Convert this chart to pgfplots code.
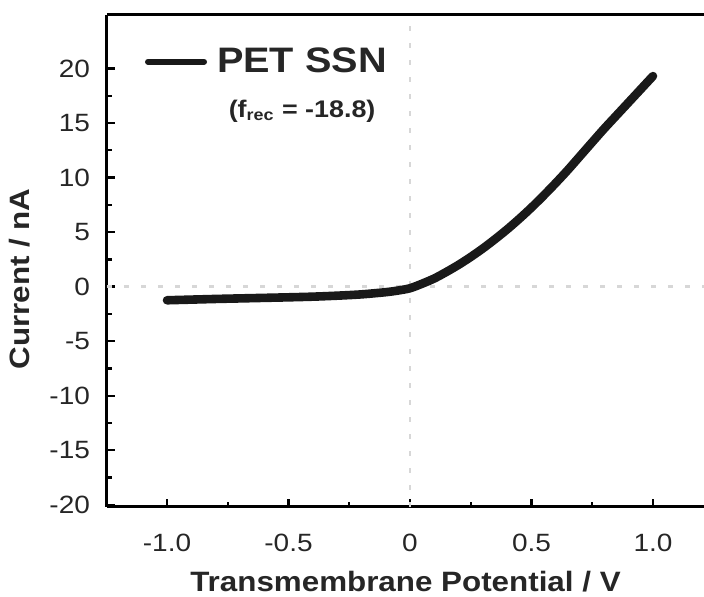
\documentclass[border=0pt]{standalone}
\usepackage{pgfplots}
\pgfplotsset{compat=1.18}
\usepackage{fontspec}
\setmainfont{Liberation Sans}[FakeStretch=1.12]
\definecolor{gridgray}{RGB}{215,215,215}
\begin{document}
\begin{tikzpicture}
\begin{axis}[
  at={(0,0)}, anchor=south west,
  scale only axis, width=298.5pt, height=246pt,
  xmin=-1.247, xmax=1.21, ymin=-20.2, ymax=24.9,
  axis x line*=box, axis y line*=left,
  axis line style={line width=1.5pt, black},
  xtick={-1,-0.5,0,0.5,1},
  xticklabels={-1.0,-0.5,0,0.5,1.0},
  ytick={-20,-15,-10,-5,0,5,10,15,20},
  yticklabels={-20,-15,-10,-5,0,5,10,15,20},
  minor x tick num=1, minor y tick num=1,
  xtick pos=bottom, ytick pos=left,
  tick align=inside,
  major tick length=4pt, minor tick length=2.5pt,
  every tick/.style={line width=1.2pt, black},
  tick label style={font=\fontsize{12.5}{14}\selectfont, text=black!85},
  xticklabel style={yshift=-10pt},
  yticklabel style={xshift=-5pt},
  xlabel={\bfseries Transmembrane Potential / V},
  ylabel={\bfseries Current / nA},
  label style={font=\fontsize{14}{16}\selectfont, text=black!85},
  xlabel style={yshift=-3pt},
  ylabel style={xshift=-9pt, yshift=3pt},
  legend style={at={(rel axis cs:0.063,0.905)}, anchor=west, draw=none, fill=none,
    font=\fontsize{17.7}{19}\selectfont\bfseries, text=black!85, inner sep=0pt,
    column sep=3pt},
  legend cell align=left,
  legend image code/.code={\draw[line width=3pt, line cap=round] (0pt,0pt) -- (28pt,0pt);},
  clip=false,
]
\addplot[gridgray, line width=1.4pt, dash pattern=on 2.5pt off 6pt, forget plot] coordinates {(0,-20.2) (0,24.9)};
\addplot[gridgray, line width=1.4pt, dash pattern=on 2.5pt off 6pt, forget plot] coordinates {(-1.247,0) (1.21,0)};
\addplot[black!90, line width=4.3pt, line cap=round, line join=round, smooth] coordinates {
(-1.0,-1.25) (-0.9,-1.19) (-0.8,-1.13) (-0.7,-1.08) (-0.6,-1.03) (-0.5,-0.98)
(-0.4,-0.92) (-0.3,-0.83) (-0.2,-0.71) (-0.1,-0.51) (-0.05,-0.36) (0.0,-0.15)
(0.05,0.27) (0.1,0.75) (0.15,1.35) (0.2,2.0) (0.25,2.72) (0.3,3.5) (0.35,4.35)
(0.4,5.25) (0.45,6.22) (0.5,7.25) (0.55,8.35) (0.6,9.5) (0.65,10.7) (0.7,11.97)
(0.75,13.24) (0.8,14.5) (0.85,15.7) (0.9,16.9) (0.95,18.1) (1.0,19.3)};
\addlegendentry{PET SSN}
\node[font=\fontsize{12}{14}\selectfont\bfseries, text=black!85] at (axis cs:-0.444,16.1) {(f\textsubscript{rec} = -18.8)};
\end{axis}
\pgfresetboundingbox
\useasboundingbox (-53.5pt,-45pt) rectangle (298.5pt,253.5pt);
\end{tikzpicture}
\end{document}
